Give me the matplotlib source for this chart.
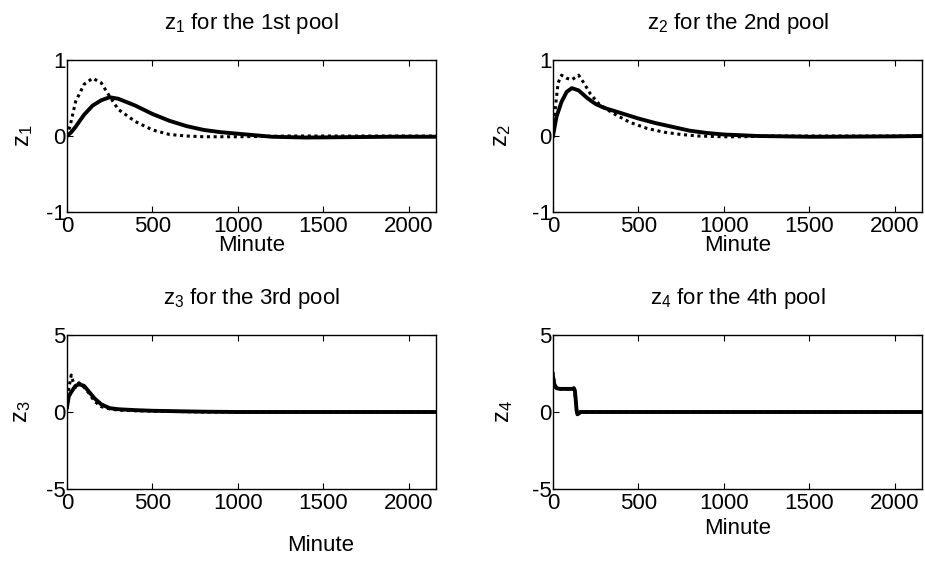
import matplotlib
matplotlib.use("Agg")
import matplotlib.pyplot as plt
import numpy as np

plt.rcParams['font.family'] = ['Liberation Sans', 'DejaVu Sans']
plt.rcParams['mathtext.default'] = 'regular'
plt.rcParams['axes.unicode_minus'] = False

# pool 1
t1_solid = [0, 25, 50, 100, 150, 200, 250, 300, 400, 500, 600, 700, 800, 900,
            1000, 1100, 1200, 1400, 1900, 2160]
z1_solid = [0, 0.05, 0.12, 0.28, 0.40, 0.47, 0.51, 0.49, 0.40, 0.29, 0.20,
            0.13, 0.08, 0.05, 0.03, 0.01, -0.01, -0.02, -0.01, -0.01]
t1_dot = [0, 20, 50, 100, 150, 200, 250, 300, 400, 500, 600, 700, 800, 1000,
          1300, 2160]
z1_dot = [0, 0.15, 0.45, 0.68, 0.76, 0.70, 0.52, 0.35, 0.19, 0.08, 0.02, 0.0,
          -0.01, -0.01, 0.0, 0.0]

# pool 2
t2_solid = [0, 20, 50, 80, 110, 150, 200, 250, 300, 400, 500, 600, 700, 800,
            900, 1000, 1100, 1200, 1500, 1600, 2000, 2160]
z2_solid = [0, 0.25, 0.45, 0.58, 0.63, 0.60, 0.50, 0.42, 0.37, 0.30, 0.23,
            0.17, 0.12, 0.07, 0.04, 0.02, 0.01, 0.0, -0.01, -0.01, -0.005, 0.0]
t2_dot = [0, 15, 30, 50, 80, 110, 150, 180, 220, 270, 350, 450, 550, 650, 750,
          850, 1000, 1100, 1300, 2160]
z2_dot = [0, 0.4, 0.7, 0.8, 0.76, 0.74, 0.8, 0.7, 0.55, 0.42, 0.30, 0.18,
          0.10, 0.05, 0.02, 0.0, -0.01, -0.01, 0.0, 0.0]

# pool 3
t3_solid = [0, 10, 25, 50, 70, 100, 130, 160, 200, 250, 300, 400, 500, 600,
            700, 800, 1000, 2160]
z3_solid = [0.3, 1.0, 1.3, 1.7, 1.8, 1.7, 1.3, 0.9, 0.5, 0.25, 0.18, 0.12,
            0.08, 0.06, 0.04, 0.02, 0.0, 0.0]
t3_dot = [0, 10, 25, 35, 50, 70, 100, 130, 160, 200, 250, 300, 400, 600, 800,
          2160]
z3_dot = [0.5, 1.5, 2.4, 2.0, 1.6, 1.9, 1.6, 1.2, 0.7, 0.35, 0.2, 0.12, 0.08,
          0.04, 0.0, 0.0]

# pool 4
t4_solid = [0, 8, 20, 40, 115, 122, 128, 133, 138, 143, 150, 160, 2160]
z4_solid = [2.3, 1.8, 1.55, 1.5, 1.5, 1.55, 1.4, 0.8, 0.1, -0.15, -0.1, 0.0,
            0.0]
t4_dot = [0, 8, 20, 115, 125, 135, 140, 150, 165, 2160]
z4_dot = [2.6, 1.8, 1.5, 1.5, 1.5, 0.5, 0.0, -0.1, 0.0, 0.0]

panels = [
    (t1_solid, z1_solid, t1_dot, z1_dot, 1, '1st', (-1, 1), [-1, 0, 1]),
    (t2_solid, z2_solid, t2_dot, z2_dot, 2, '2nd', (-1, 1), [-1, 0, 1]),
    (t3_solid, z3_solid, t3_dot, z3_dot, 3, '3rd', (-5, 5), [-5, 0, 5]),
    (t4_solid, z4_solid, t4_dot, z4_dot, 4, '4th', (-5, 5), [-5, 0, 5]),
]

W, H = 925, 561
boxes = [(67, 60, 436, 212), (553, 60, 922, 212),
         (67, 335, 436, 489), (553, 335, 922, 489)]
xlabel_pos = [(0.5, -0.15), (0.5, -0.15), (0.686, -0.30), (0.5, -0.19)]
ylabel_x = [-0.087, -0.108, -0.092, -0.103]

fig = plt.figure(figsize=(W / 100, H / 100), dpi=100)

for i, (ts, zs, td, zd, n, nth, ylim, yt) in enumerate(panels):
    l, t, r, b = boxes[i]
    ax = fig.add_axes([l / W, (H - b) / H, (r - l) / W, (b - t) / H])
    ax.plot(td, zd, color='black', linestyle=(0, (1, 1.2)), linewidth=2.2)
    ax.plot(ts, zs, color='black', linestyle='-', linewidth=2.8)
    ax.set_xlim(0, 2160)
    ax.set_ylim(*ylim)
    ax.set_xticks([0, 500, 1000, 1500, 2000])
    ax.set_yticks(yt)
    ax.tick_params(direction='in', top=True, right=True, length=4,
                   labelsize=16, pad=3)
    ax.tick_params(axis='y', pad=1)
    ax.set_title(r'$z_{%d}$ for the %s pool' % (n, nth), fontsize=16, pad=22)
    ax.set_xlabel('Minute', fontsize=16)
    ax.xaxis.set_label_coords(*xlabel_pos[i])
    ax.set_ylabel(r'$z_{%d}$' % n, fontsize=17)
    ax.yaxis.set_label_coords(ylabel_x[i], 0.5)
    for s in ax.spines.values():
        s.set_linewidth(1.0)

fig.savefig('out.png', dpi=100)
